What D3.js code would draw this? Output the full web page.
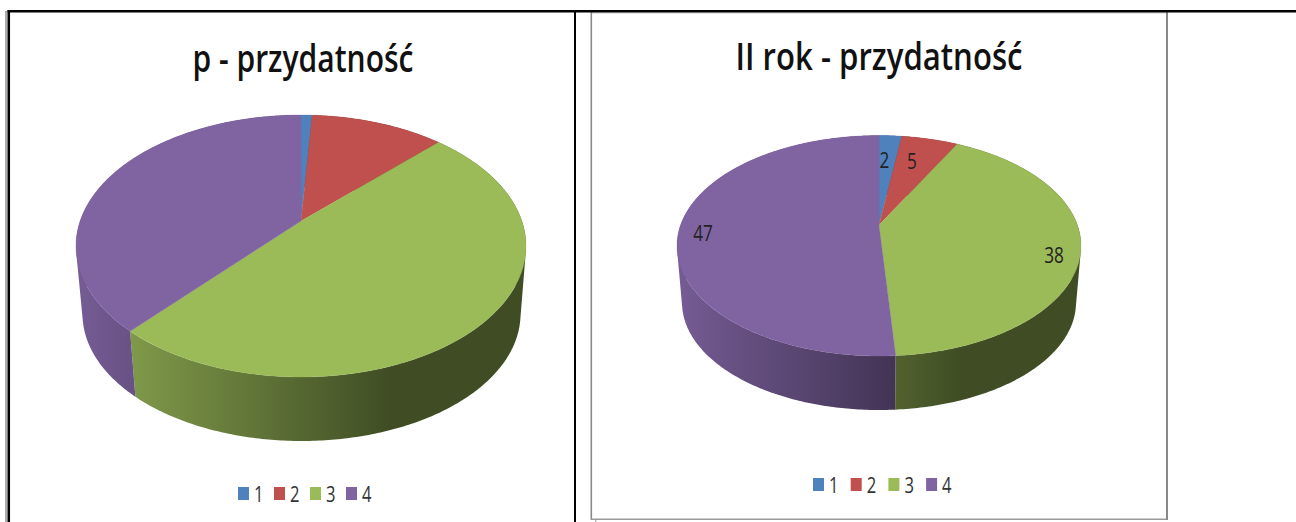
<!DOCTYPE html>
<html><head><meta charset="utf-8"><script src="https://cdn.jsdelivr.net/npm/d3@7"></script>
<style>html,body{margin:0;padding:0;background:#fff}svg{display:block}</style></head><body>
<svg id="c" width="1296" height="522"></svg>
<script>
const categories = ["1","2","3","4"];
const leftValues = [1,12,51,40];
const rightValues = [2,5,38,47];
const rightLabels = ["2","5","38","47"];
const colors = ["#4f81bd","#c0504d","#9bbb59","#8064a2"];
const leftTitle = "p - przydatność";
const rightTitle = "II rok - przydatność";

const svg = d3.select("#c");
const defs = svg.append("defs");
const FONT = "'Open Sans','Noto Sans',sans-serif";
const shade = d3.scaleLinear().domain([-1,-.76,-.3,0,.4,1]).range([.92,.82,.66,.55,.41,.41]);
const pieGen = d3.pie().sort(null).value(d=>d);

function projector(cfg){
  // projective image of a circle: back y=-1, centre y=0, front y=1
  const {cx,top,center,bottom,rx}=cfg;
  const C=(2*center-(top+bottom))/(bottom-top);
  const a=bottom+bottom*C-center;
  const r=rx*Math.sqrt(1-C*C);
  return th=>{ // th clockwise from top
    const x=Math.sin(th), y=-Math.cos(th), w=1+C*y;
    return [cx+r*x/w,(a*y+center)/w];
  };
}

function drawPie(id,vals,top,bot,title,titleX,titleY,titleW,labels,labelPos,legendX,legendY,legendStep){
  const g=svg.append("g");
  const P=projector(top), B=projector(bot);
  const arcs=pieGen(vals);
  const line=d3.line();
  arcs.forEach((a,i)=>{
    const col=d3.rgb(colors[i]);
    const grad=defs.append("linearGradient").attr("id",id+i).attr("gradientUnits","userSpaceOnUse")
      .attr("x1",top.cx-top.rx).attr("x2",top.cx+top.rx).attr("y1",0).attr("y2",0);
    shade.domain().forEach(u=>{
      const f=shade(u);
      grad.append("stop").attr("offset",(u+1)/2).attr("stop-color",d3.rgb(col.r*f,col.g*f,col.b*f).formatHex());
    });
    const n=Math.max(2,Math.ceil((a.endAngle-a.startAngle)/0.012));
    const d=d3.range(n).map(j=>{
      const t0=a.startAngle+(a.endAngle-a.startAngle)*j/n;
      const t1=a.startAngle+(a.endAngle-a.startAngle)*(j+1)/n;
      const quad=[P(t0),P(t1),B(t1),B(t0)];
      if(d3.polygonArea(quad)<0) quad.reverse(); // keep one winding so the quads union
      return line(quad)+"Z";
    }).join("");
    g.append("path").attr("d",d).attr("fill",`url(#${id}${i})`);
  });
  arcs.forEach((a,i)=>{
    const n=Math.max(4,Math.ceil((a.endAngle-a.startAngle)/0.01));
    const ring=d3.range(n+1).map(j=>P(a.startAngle+(a.endAngle-a.startAngle)*j/n));
    g.append("path").attr("d",line([[top.cx,top.center],...ring])+"Z").attr("fill",colors[i]).attr("stroke",colors[i]).attr("stroke-width",.3);
  });
  g.append("text").attr("x",titleX).attr("y",titleY).attr("text-anchor","middle")
    .attr("font-family",FONT).attr("font-weight",600).attr("font-size",37).attr("textLength",titleW).attr("lengthAdjust","spacingAndGlyphs").attr("fill","#111").text(title);
  if(labels) labels.forEach((t,i)=>g.append("text").attr("x",labelPos[i][0]).attr("y",labelPos[i][1]).attr("text-anchor","middle")
    .attr("font-family",FONT).attr("font-size",21).attr("textLength",t.length*9.8).attr("lengthAdjust","spacingAndGlyphs").attr("fill","#222").text(t));
  categories.forEach((c,i)=>{
    const x=legendX+i*legendStep;
    g.append("rect").attr("x",x).attr("y",legendY-15).attr("width",11).attr("height",13).attr("fill",colors[i]);
    g.append("text").attr("x",x+16).attr("y",legendY).attr("font-family",FONT).attr("font-size",22).attr("textLength",9.5).attr("lengthAdjust","spacingAndGlyphs").attr("fill","#333").text(c);
  });
}
function l(x1,y1,x2,y2,c,w){svg.append("line").attr("x1",x1).attr("y1",y1).attr("x2",x2).attr("y2",y2).attr("stroke",c).attr("stroke-width",w);}

// right chart frame
l(591,13,1167,13,"#dddddd",1.5);
l(591.3,12,591.3,520,"#8a8a8a",1.6); l(591,519.2,1168,519.2,"#999999",1.5); l(1167,12,1167,520,"#888888",2);
l(595.8,520,595.8,522,"#999999",1);
// table rules
l(6.2,11,6.2,522,"#aaaaaa",2.4); l(8.8,10,8.8,522,"#000",2.5); l(7.5,11.2,1296,11.2,"#000",2.4); l(575,11,575,522,"#000",2);

const Ltop={cx:301,top:115,center:221,bottom:377,rx:225};
const Lbot={cx:301.5,top:187,center:290,bottom:441,rx:219};
const Rtop={cx:879,top:135.5,center:225,bottom:356,rx:202};
const Rbot={cx:879,top:195,center:283,bottom:410,rx:197};
drawPie("l",leftValues,Ltop,Lbot,leftTitle,303,72,221,null,null,238,502,36);
drawPie("r",rightValues,Rtop,Rbot,rightTitle,879,70,287,rightLabels,[[884.5,168],[912,169],[1054,263],[703,241]],813,493,37.7);
</script></body></html>
